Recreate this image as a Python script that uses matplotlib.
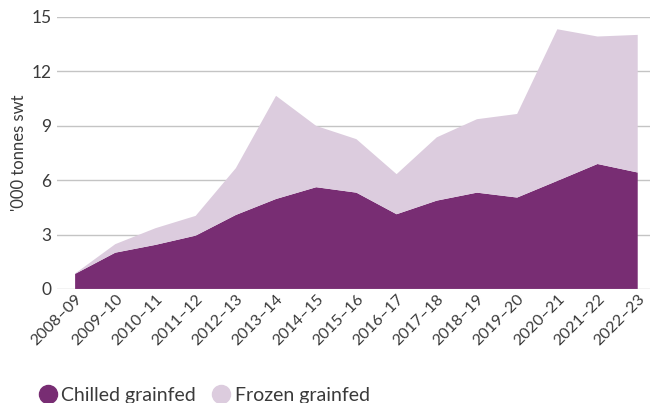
import matplotlib
matplotlib.use("Agg")
import matplotlib.pyplot as plt
from matplotlib.lines import Line2D
import numpy as np

years = ["2008–09", "2009–10", "2010–11", "2011–12", "2012–13", "2013–14", "2014–15",
         "2015–16", "2016–17", "2017–18", "2018–19", "2019–20", "2020–21", "2021–22", "2022–23"]
chilled = [0.83, 2.0, 2.43, 2.94, 4.08, 4.96, 5.61, 5.31, 4.12, 4.87, 5.31, 5.04, 5.96, 6.89, 6.42]
frozen = [0.02, 0.47, 0.92, 1.09, 2.58, 5.69, 3.38, 2.95, 2.21, 3.49, 4.05, 4.61, 8.36, 7.03, 7.59]
yticks = [0, 3, 6, 9, 12, 15]

dark = "#782D73"
light = "#DCCCDE"
textc = "#3a3a3a"

plt.rcParams['font.family'] = ['Lato', 'DejaVu Sans']

fig = plt.figure(figsize=(6.57, 4.03), dpi=100)
ax = fig.add_axes([0.0868, 0.283, 0.9022, 0.675])

x = np.arange(len(years))
ax.stackplot(x, chilled, frozen, colors=[dark, light], linewidth=0)

ax.set_xlim(-0.45, len(years) - 1 + 0.3)
ax.set_ylim(0, 15)
ax.set_yticks(yticks)
ax.set_yticklabels([str(v) for v in yticks], fontsize=12.5, color=textc)
ax.yaxis.grid(True, color="#c4c4c4", linewidth=1)
ax.set_axisbelow(True)
ax.tick_params(axis='y', length=0, pad=4)
ax.tick_params(axis='x', length=0, pad=2)
ax.set_xticks(x)
ax.set_xticklabels(years, rotation=45, ha='right', rotation_mode='anchor',
                   fontsize=11.5, color=textc)
for s in ax.spines.values():
    s.set_visible(False)
ax.set_ylabel("'000 tonnes swt", fontsize=12, color=textc, labelpad=3)

handles = [Line2D([], [], marker='o', linestyle='', markersize=13, color=dark),
           Line2D([], [], marker='o', linestyle='', markersize=13, color=light)]
fig.legend(handles, ["Chilled grainfed", "Frozen grainfed"], loc='lower left',
           bbox_to_anchor=(0.028, -0.045), ncol=2, frameon=False, handletextpad=0.1,
           columnspacing=0.7, handlelength=1.2,
           prop={'size': 14}, labelcolor=textc)

fig.savefig("out.png", dpi=100)
